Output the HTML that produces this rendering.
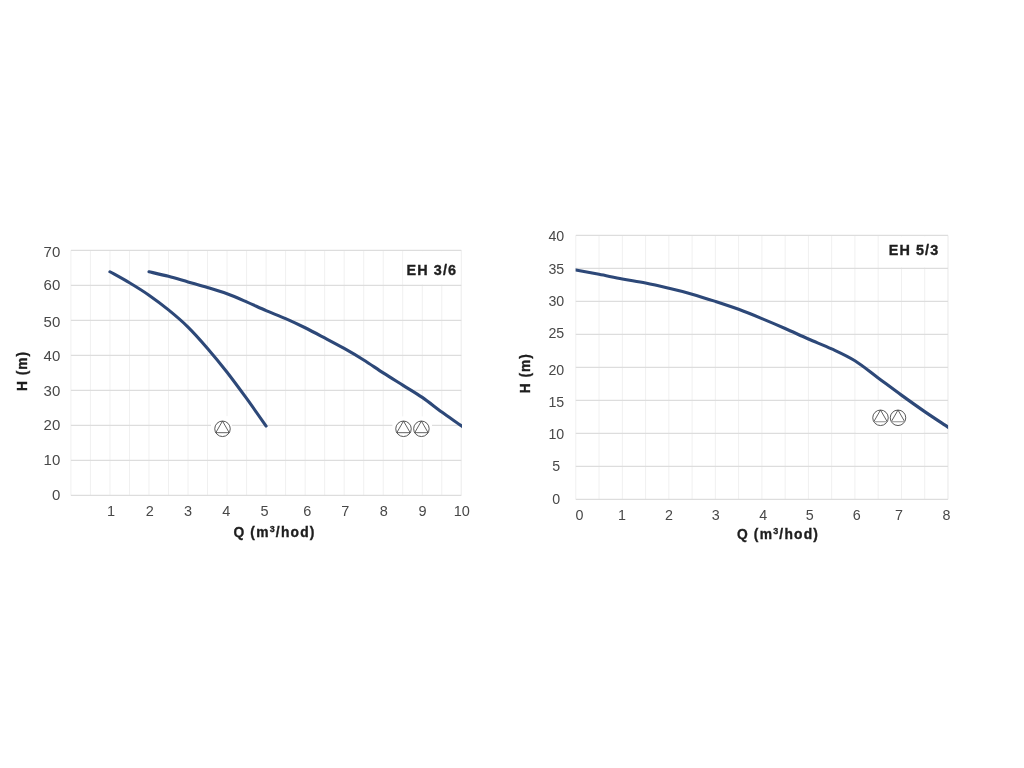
<!DOCTYPE html>
<html><head><meta charset="utf-8"><title>EH 3/6, EH 5/3</title>
<style>
html,body{margin:0;padding:0;background:#fff;}
body{width:1024px;height:768px;overflow:hidden;}
svg{display:block;}
text{font-family:"Liberation Sans",sans-serif;fill:#484848;}
.ax{font-size:13.8px;font-weight:bold;fill:#1e1e1e;stroke:#1e1e1e;stroke-width:0.35px;letter-spacing:1.2px;}
.ay{letter-spacing:0.95px;}
.lbl{font-size:14.4px;font-weight:bold;fill:#1e1e1e;stroke:#1e1e1e;stroke-width:0.35px;letter-spacing:1.1px;}
</style></head><body>
<svg width="1024" height="768" viewBox="0 0 1024 768">
<rect width="1024" height="768" fill="#fff"/>
<g id="chart1">
<line x1="70.90" y1="250.40" x2="70.90" y2="495.40" stroke="#f0f0f0" stroke-width="1"/>
<line x1="90.42" y1="250.40" x2="90.42" y2="495.40" stroke="#f0f0f0" stroke-width="1"/>
<line x1="109.94" y1="250.40" x2="109.94" y2="495.40" stroke="#f0f0f0" stroke-width="1"/>
<line x1="129.46" y1="250.40" x2="129.46" y2="495.40" stroke="#f0f0f0" stroke-width="1"/>
<line x1="148.98" y1="250.40" x2="148.98" y2="495.40" stroke="#f0f0f0" stroke-width="1"/>
<line x1="168.50" y1="250.40" x2="168.50" y2="495.40" stroke="#f0f0f0" stroke-width="1"/>
<line x1="188.02" y1="250.40" x2="188.02" y2="495.40" stroke="#f0f0f0" stroke-width="1"/>
<line x1="207.54" y1="250.40" x2="207.54" y2="495.40" stroke="#f0f0f0" stroke-width="1"/>
<line x1="227.06" y1="250.40" x2="227.06" y2="495.40" stroke="#f0f0f0" stroke-width="1"/>
<line x1="246.58" y1="250.40" x2="246.58" y2="495.40" stroke="#f0f0f0" stroke-width="1"/>
<line x1="266.10" y1="250.40" x2="266.10" y2="495.40" stroke="#f0f0f0" stroke-width="1"/>
<line x1="285.62" y1="250.40" x2="285.62" y2="495.40" stroke="#f0f0f0" stroke-width="1"/>
<line x1="305.14" y1="250.40" x2="305.14" y2="495.40" stroke="#f0f0f0" stroke-width="1"/>
<line x1="324.66" y1="250.40" x2="324.66" y2="495.40" stroke="#f0f0f0" stroke-width="1"/>
<line x1="344.18" y1="250.40" x2="344.18" y2="495.40" stroke="#f0f0f0" stroke-width="1"/>
<line x1="363.70" y1="250.40" x2="363.70" y2="495.40" stroke="#f0f0f0" stroke-width="1"/>
<line x1="383.22" y1="250.40" x2="383.22" y2="495.40" stroke="#f0f0f0" stroke-width="1"/>
<line x1="402.74" y1="250.40" x2="402.74" y2="495.40" stroke="#f0f0f0" stroke-width="1"/>
<line x1="422.26" y1="250.40" x2="422.26" y2="495.40" stroke="#f0f0f0" stroke-width="1"/>
<line x1="441.78" y1="250.40" x2="441.78" y2="495.40" stroke="#f0f0f0" stroke-width="1"/>
<line x1="461.30" y1="250.40" x2="461.30" y2="495.40" stroke="#f0f0f0" stroke-width="1"/>
<rect x="403.50" y="251.20" width="57.30" height="33.40" fill="#fff"/>
<line x1="461.30" y1="250.40" x2="461.30" y2="495.40" stroke="#f0f0f0" stroke-width="1"/>
<line x1="70.90" y1="495.40" x2="461.30" y2="495.40" stroke="#dddddd" stroke-width="1.2"/>
<line x1="70.90" y1="460.40" x2="461.30" y2="460.40" stroke="#dddddd" stroke-width="1.2"/>
<line x1="70.90" y1="425.40" x2="461.30" y2="425.40" stroke="#dddddd" stroke-width="1.2"/>
<line x1="70.90" y1="390.40" x2="461.30" y2="390.40" stroke="#dddddd" stroke-width="1.2"/>
<line x1="70.90" y1="355.40" x2="461.30" y2="355.40" stroke="#dddddd" stroke-width="1.2"/>
<line x1="70.90" y1="320.40" x2="461.30" y2="320.40" stroke="#dddddd" stroke-width="1.2"/>
<line x1="70.90" y1="285.40" x2="461.30" y2="285.40" stroke="#dddddd" stroke-width="1.2"/>
<line x1="70.90" y1="250.40" x2="461.30" y2="250.40" stroke="#dddddd" stroke-width="1.2"/>
<rect x="211.00" y="416.20" width="20.80" height="23.80" fill="#fff"/>
<rect x="392.40" y="416.40" width="39.60" height="22.90" fill="#fff"/>
<clipPath id="cp1"><rect x="60.00" y="0" width="401.90" height="768"/></clipPath>
<g clip-path="url(#cp1)">
<path d="M109.94 271.75 C113.19 273.59 122.95 278.87 129.46 282.77 C135.97 286.68 142.47 290.68 148.98 295.20 C155.49 299.72 161.99 304.59 168.50 309.90 C175.01 315.21 181.51 320.63 188.02 327.05 C194.53 333.47 201.03 340.88 207.54 348.40 C214.05 355.92 220.55 363.86 227.06 372.20 C233.57 380.54 240.07 389.47 246.58 398.45 C253.09 407.43 262.85 421.49 266.10 426.10" fill="none" stroke="#2d4878" stroke-width="3.1" stroke-linecap="round" stroke-linejoin="round"/>
<path d="M148.98 271.75 C152.23 272.51 161.99 274.61 168.50 276.30 C175.01 277.99 181.51 280.03 188.02 281.90 C194.53 283.77 201.03 285.52 207.54 287.50 C214.05 289.48 220.55 291.41 227.06 293.80 C233.57 296.19 240.07 299.05 246.58 301.85 C253.09 304.65 259.59 307.80 266.10 310.60 C272.61 313.40 279.11 315.79 285.62 318.65 C292.13 321.51 298.63 324.54 305.14 327.75 C311.65 330.96 318.15 334.46 324.66 337.90 C331.17 341.34 337.67 344.72 344.18 348.40 C350.69 352.07 357.19 355.87 363.70 359.95 C370.21 364.03 376.71 368.70 383.22 372.90 C389.73 377.10 396.23 381.07 402.74 385.15 C409.25 389.23 415.75 392.91 422.26 397.40 C428.77 401.89 435.27 407.37 441.78 412.10 C448.29 416.82 456.75 422.48 461.30 425.75 C465.85 429.02 467.81 430.71 469.11 431.70" fill="none" stroke="#2d4878" stroke-width="3.1" stroke-linecap="round" stroke-linejoin="round"/>
</g>
<circle cx="222.50" cy="428.80" r="7.75" fill="#fff" stroke="#444" stroke-width="0.9"/>
<polygon points="222.50,421.05 229.21,432.68 215.79,432.68" fill="none" stroke="#444" stroke-width="0.85" stroke-linejoin="round"/>
<circle cx="403.50" cy="428.80" r="7.75" fill="#fff" stroke="#444" stroke-width="0.9"/>
<polygon points="403.50,421.05 410.21,432.68 396.79,432.68" fill="none" stroke="#444" stroke-width="0.85" stroke-linejoin="round"/>
<circle cx="421.40" cy="428.80" r="7.75" fill="#fff" stroke="#444" stroke-width="0.9"/>
<polygon points="421.40,421.05 428.11,432.68 414.69,432.68" fill="none" stroke="#444" stroke-width="0.85" stroke-linejoin="round"/>
<text x="60.30" y="500.10" text-anchor="end" class="ty" font-size="15">0</text>
<text x="60.30" y="465.00" text-anchor="end" class="ty" font-size="15">10</text>
<text x="60.30" y="430.00" text-anchor="end" class="ty" font-size="15">20</text>
<text x="60.30" y="395.80" text-anchor="end" class="ty" font-size="15">30</text>
<text x="60.30" y="361.00" text-anchor="end" class="ty" font-size="15">40</text>
<text x="60.30" y="327.30" text-anchor="end" class="ty" font-size="15">50</text>
<text x="60.30" y="290.10" text-anchor="end" class="ty" font-size="15">60</text>
<text x="60.30" y="256.80" text-anchor="end" class="ty" font-size="15">70</text>
<text x="111.00" y="516.00" text-anchor="middle" class="tx" font-size="14.5">1</text>
<text x="149.70" y="516.00" text-anchor="middle" class="tx" font-size="14.5">2</text>
<text x="188.00" y="516.00" text-anchor="middle" class="tx" font-size="14.5">3</text>
<text x="226.40" y="516.00" text-anchor="middle" class="tx" font-size="14.5">4</text>
<text x="264.50" y="516.00" text-anchor="middle" class="tx" font-size="14.5">5</text>
<text x="307.30" y="516.00" text-anchor="middle" class="tx" font-size="14.5">6</text>
<text x="345.40" y="516.00" text-anchor="middle" class="tx" font-size="14.5">7</text>
<text x="383.90" y="516.00" text-anchor="middle" class="tx" font-size="14.5">8</text>
<text x="422.60" y="516.00" text-anchor="middle" class="tx" font-size="14.5">9</text>
<text x="461.80" y="516.00" text-anchor="middle" class="tx" font-size="14.5">10</text>
<text x="274.50" y="536.50" text-anchor="middle" class="ax">Q (m<tspan dy="-4.8" font-size="9">3</tspan><tspan dy="4.8">/hod)</tspan></text>
<text transform="translate(26.90 370.90) rotate(-90)" text-anchor="middle" class="ax ay">H (m)</text>
<text x="457.20" y="275.00" text-anchor="end" class="lbl">EH 3/6</text>
</g>
<g id="chart2">
<line x1="575.80" y1="235.40" x2="575.80" y2="499.40" stroke="#f0f0f0" stroke-width="1"/>
<line x1="599.06" y1="235.40" x2="599.06" y2="499.40" stroke="#f0f0f0" stroke-width="1"/>
<line x1="622.32" y1="235.40" x2="622.32" y2="499.40" stroke="#f0f0f0" stroke-width="1"/>
<line x1="645.58" y1="235.40" x2="645.58" y2="499.40" stroke="#f0f0f0" stroke-width="1"/>
<line x1="668.84" y1="235.40" x2="668.84" y2="499.40" stroke="#f0f0f0" stroke-width="1"/>
<line x1="692.10" y1="235.40" x2="692.10" y2="499.40" stroke="#f0f0f0" stroke-width="1"/>
<line x1="715.36" y1="235.40" x2="715.36" y2="499.40" stroke="#f0f0f0" stroke-width="1"/>
<line x1="738.62" y1="235.40" x2="738.62" y2="499.40" stroke="#f0f0f0" stroke-width="1"/>
<line x1="761.88" y1="235.40" x2="761.88" y2="499.40" stroke="#f0f0f0" stroke-width="1"/>
<line x1="785.14" y1="235.40" x2="785.14" y2="499.40" stroke="#f0f0f0" stroke-width="1"/>
<line x1="808.40" y1="235.40" x2="808.40" y2="499.40" stroke="#f0f0f0" stroke-width="1"/>
<line x1="831.66" y1="235.40" x2="831.66" y2="499.40" stroke="#f0f0f0" stroke-width="1"/>
<line x1="854.92" y1="235.40" x2="854.92" y2="499.40" stroke="#f0f0f0" stroke-width="1"/>
<line x1="878.18" y1="235.40" x2="878.18" y2="499.40" stroke="#f0f0f0" stroke-width="1"/>
<line x1="901.44" y1="235.40" x2="901.44" y2="499.40" stroke="#f0f0f0" stroke-width="1"/>
<line x1="924.70" y1="235.40" x2="924.70" y2="499.40" stroke="#f0f0f0" stroke-width="1"/>
<line x1="947.96" y1="235.40" x2="947.96" y2="499.40" stroke="#f0f0f0" stroke-width="1"/>
<rect x="879.00" y="236.30" width="68.50" height="31.20" fill="#fff"/>
<line x1="947.96" y1="235.40" x2="947.96" y2="499.40" stroke="#f0f0f0" stroke-width="1"/>
<line x1="575.80" y1="499.40" x2="947.96" y2="499.40" stroke="#dddddd" stroke-width="1.2"/>
<line x1="575.80" y1="466.40" x2="947.96" y2="466.40" stroke="#dddddd" stroke-width="1.2"/>
<line x1="575.80" y1="433.40" x2="947.96" y2="433.40" stroke="#dddddd" stroke-width="1.2"/>
<line x1="575.80" y1="400.40" x2="947.96" y2="400.40" stroke="#dddddd" stroke-width="1.2"/>
<line x1="575.80" y1="367.40" x2="947.96" y2="367.40" stroke="#dddddd" stroke-width="1.2"/>
<line x1="575.80" y1="334.40" x2="947.96" y2="334.40" stroke="#dddddd" stroke-width="1.2"/>
<line x1="575.80" y1="301.40" x2="947.96" y2="301.40" stroke="#dddddd" stroke-width="1.2"/>
<line x1="575.80" y1="268.40" x2="947.96" y2="268.40" stroke="#dddddd" stroke-width="1.2"/>
<line x1="575.80" y1="235.40" x2="947.96" y2="235.40" stroke="#dddddd" stroke-width="1.2"/>
<rect x="856.00" y="401.20" width="67.50" height="31.30" fill="#fff"/>
<clipPath id="cp2"><rect x="575.60" y="0" width="372.50" height="768"/></clipPath>
<g clip-path="url(#cp2)">
<path d="M566.50 268.40 C568.05 268.67 570.37 269.06 575.80 270.05 C581.23 271.04 591.31 272.85 599.06 274.34 C606.81 275.82 614.57 277.53 622.32 278.96 C630.07 280.39 637.83 281.38 645.58 282.92 C653.33 284.46 661.09 286.33 668.84 288.20 C676.59 290.07 684.35 291.94 692.10 294.14 C699.85 296.34 707.61 298.87 715.36 301.40 C723.11 303.93 730.87 306.46 738.62 309.32 C746.37 312.18 754.13 315.37 761.88 318.56 C769.63 321.75 777.39 325.05 785.14 328.46 C792.89 331.87 800.65 335.61 808.40 339.02 C816.15 342.43 823.91 345.29 831.66 348.92 C839.41 352.55 847.17 355.96 854.92 360.80 C862.67 365.64 870.43 372.24 878.18 377.96 C885.93 383.68 893.69 389.51 901.44 395.12 C909.19 400.73 916.95 406.29 924.70 411.62 C932.45 416.95 942.53 423.50 947.96 427.13 C953.39 430.76 955.71 432.35 957.26 433.40" fill="none" stroke="#2d4878" stroke-width="3.1" stroke-linecap="round" stroke-linejoin="round"/>
</g>
<circle cx="880.50" cy="417.80" r="7.75" fill="#fff" stroke="#444" stroke-width="0.9"/>
<polyline points="873.79,421.68 880.50,410.05 887.21,421.68" fill="none" stroke="#444" stroke-width="0.85" stroke-linejoin="round"/>
<line x1="887.21" y1="421.68" x2="873.79" y2="421.68" stroke="#a8a8a8" stroke-width="1.3"/>
<circle cx="898.00" cy="417.80" r="7.75" fill="#fff" stroke="#444" stroke-width="0.9"/>
<polyline points="891.29,421.68 898.00,410.05 904.71,421.68" fill="none" stroke="#444" stroke-width="0.85" stroke-linejoin="round"/>
<line x1="904.71" y1="421.68" x2="891.29" y2="421.68" stroke="#a8a8a8" stroke-width="1.3"/>
<text x="556.30" y="503.60" text-anchor="middle" class="ty" font-size="14.2">0</text>
<text x="556.30" y="471.40" text-anchor="middle" class="ty" font-size="14.2">5</text>
<text x="556.30" y="439.10" text-anchor="middle" class="ty" font-size="14.2">10</text>
<text x="556.30" y="406.80" text-anchor="middle" class="ty" font-size="14.2">15</text>
<text x="556.30" y="374.50" text-anchor="middle" class="ty" font-size="14.2">20</text>
<text x="556.30" y="338.10" text-anchor="middle" class="ty" font-size="14.2">25</text>
<text x="556.30" y="305.90" text-anchor="middle" class="ty" font-size="14.2">30</text>
<text x="556.30" y="273.50" text-anchor="middle" class="ty" font-size="14.2">35</text>
<text x="556.30" y="241.20" text-anchor="middle" class="ty" font-size="14.2">40</text>
<text x="579.50" y="519.70" text-anchor="middle" class="tx" font-size="14.3">0</text>
<text x="622.10" y="519.70" text-anchor="middle" class="tx" font-size="14.3">1</text>
<text x="669.00" y="519.70" text-anchor="middle" class="tx" font-size="14.3">2</text>
<text x="715.70" y="519.70" text-anchor="middle" class="tx" font-size="14.3">3</text>
<text x="763.30" y="519.70" text-anchor="middle" class="tx" font-size="14.3">4</text>
<text x="809.80" y="519.70" text-anchor="middle" class="tx" font-size="14.3">5</text>
<text x="856.70" y="519.70" text-anchor="middle" class="tx" font-size="14.3">6</text>
<text x="899.10" y="519.70" text-anchor="middle" class="tx" font-size="14.3">7</text>
<text x="946.50" y="519.70" text-anchor="middle" class="tx" font-size="14.3">8</text>
<text x="778.00" y="538.80" text-anchor="middle" class="ax">Q (m<tspan dy="-4.8" font-size="9">3</tspan><tspan dy="4.8">/hod)</tspan></text>
<text transform="translate(530.30 373.20) rotate(-90)" text-anchor="middle" class="ax ay">H (m)</text>
<text x="939.30" y="255.00" text-anchor="end" class="lbl">EH 5/3</text>
</g>
</svg>
</body></html>
